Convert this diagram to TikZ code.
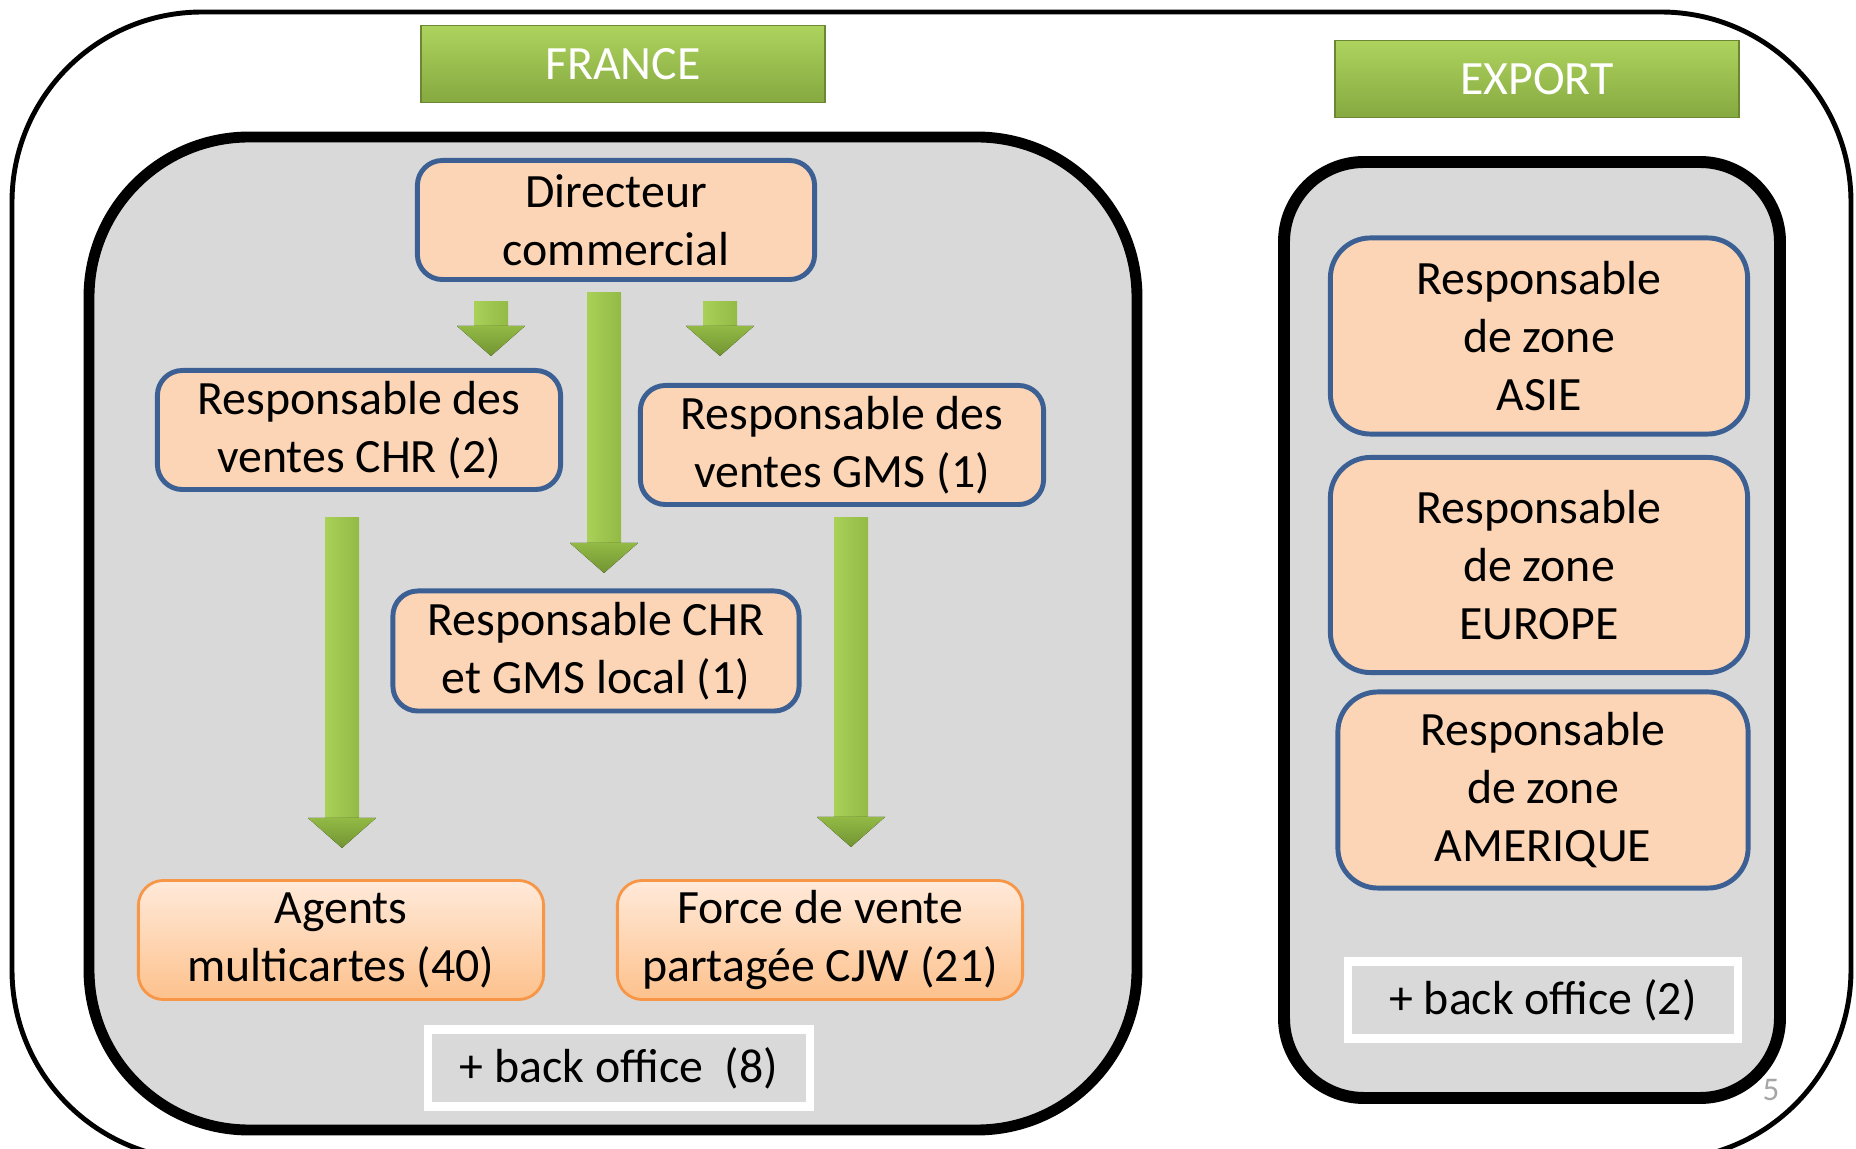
\documentclass[tikz,border=0pt]{standalone}
\usepackage{fontspec}
\setmainfont{Carlito}
\usepackage{tikz}

\definecolor{gris}{HTML}{D9D9D9}
\definecolor{peche}{HTML}{FBD5B5}
\definecolor{bleu}{HTML}{3C6093}
\definecolor{orbord}{HTML}{F79646}
\definecolor{orclair}{HTML}{FFEADA}
\definecolor{orfonce}{HTML}{FDC18C}
\definecolor{vertclair}{HTML}{ADD35E}
\definecolor{vertfonce}{HTML}{86A940}
\definecolor{flclair}{HTML}{A9D158}
\definecolor{flmilieu}{HTML}{92BA45}
\definecolor{flfonce}{HTML}{729433}

% fleche verte : x, haut, pointe
\newcommand{\fleche}[3]{%
  \fill[left color=flclair, right color=flmilieu] (#1-17,#2) rectangle (#1+17,#3-29);
  \fill[top color=flmilieu, bottom color=flfonce] (#1-34,#3-30) -- (#1+34,#3-30) -- (#1,#3) -- cycle;}

\begin{document}
\begin{tikzpicture}[x=0.01cm, y=-0.01cm, font=\fontsize{13.6}{16.5}\selectfont,
    poste/.style={draw=bleu, line width=1.4pt, fill=peche, rounded corners=0.25cm, align=center, inner sep=0pt},
    agent/.style={draw=orbord, line width=0.8pt, top color=orclair, bottom color=orfonce, rounded corners=0.25cm,
      align=center, inner sep=0pt, minimum width=4.05cm, minimum height=1.19cm},
    titre/.style={draw=vertfonce!80!black, line width=0.4pt, top color=vertclair, bottom color=vertfonce,
      text=white, minimum width=4.04cm, minimum height=0.77cm},
    bureau/.style={draw=white, line width=2.4pt, fill=gris, minimum width=3.82cm, minimum height=0.77cm}]
    \useasboundingbox (0,0) rectangle (1856,1149); % taille de l'image
    \clip (0,0) rectangle (1856,1149);

    \draw[line width=1.4pt, rounded corners=1.9cm] (12,12) rectangle (1851,1160); % cadre exterieur
    \draw[line width=3.1pt, fill=gris, rounded corners=1.6cm] (89,137) rectangle (1137,1130); % France
    \draw[line width=3.4pt, fill=gris, rounded corners=0.8cm] (1284,162) rectangle (1780,1098); % Export

    \node[titre] (france) at (623,64) {FRANCE};
    \node[titre] (export) at (1537,79) {EXPORT};

    % fleches
    \fleche{491}{302}{356}
    \fleche{720}{302}{356}
    \fleche{604}{293}{573}
    \fleche{342}{518}{848}
    \fleche{851}{518}{847}

    \node[poste, minimum width=3.97cm, minimum height=1.19cm] (dir) at (616,220) {Directeur\\commercial};
    \node[poste, minimum width=4.03cm, minimum height=1.19cm] (chr) at (359,430) {Responsable des\\ventes CHR (2)};
    \node[poste, minimum width=4.03cm, minimum height=1.19cm] (gms) at (842,445) {Responsable des\\ventes GMS (1)};
    \node[poste, minimum width=4.06cm, minimum height=1.20cm] (local) at (596,651) {Responsable CHR\\et GMS local (1)};

    \node[agent] (agents) at (341,940) {Agents\\multicartes (40)};
    \node[agent] (force) at (820,940) {Force de vente\\partagée CJW (21)};
    \node[bureau] (bofr) at (619,1068) {+ back office~ (8)};

    \node[poste, minimum width=4.17cm, minimum height=1.96cm, rounded corners=0.4cm] (asie) at (1539,336) {Responsable\\de zone\\ASIE};
    \node[poste, minimum width=4.17cm, minimum height=2.15cm, rounded corners=0.4cm] (europe) at (1539,565) {Responsable\\de zone\\EUROPE};
    \node[poste, minimum width=4.10cm, minimum height=1.96cm, rounded corners=0.4cm] (amerique) at (1543,790) {Responsable\\de zone\\AMERIQUE};
    \node[bureau, minimum width=3.90cm] (boex) at (1543,1000) {+ back office (2)};

    \node[text=black!35, font=\fontsize{9.4}{11}\selectfont] (page) at (1771,1090) {5}; % numero de page
\end{tikzpicture}
\end{document}
